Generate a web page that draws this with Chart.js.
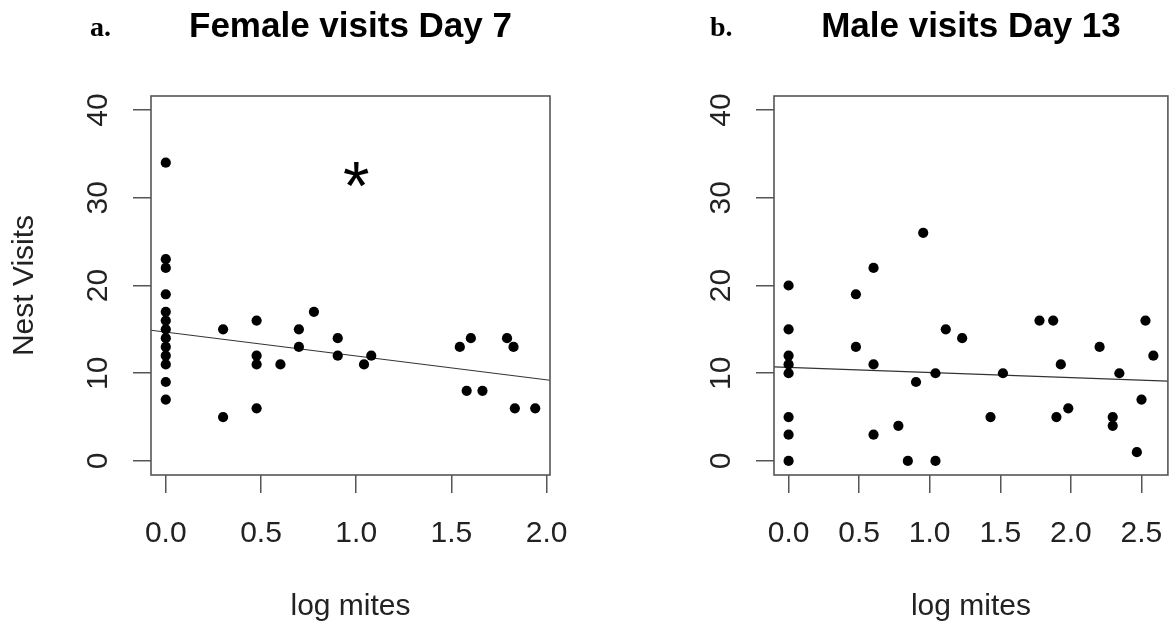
<!DOCTYPE html>
<html>
<head>
<meta charset="utf-8">
<script src="https://cdn.jsdelivr.net/npm/chart.js@4.4.1/dist/chart.umd.min.js"></script>
<style>
  html, body { margin: 0; padding: 0; background: #fff; }
  #wrap { position: relative; width: 1173px; height: 624px; overflow: hidden; }
  canvas { position: absolute; top: 0; }
</style>
</head>
<body>
<div id="wrap">
  <canvas id="female" width="586" height="624" style="left:0"></canvas>
  <canvas id="male" width="587" height="624" style="left:586px"></canvas>
</div>
<script>
// a. Female visits, day 7
const femaleMites = [0, 0, 0, 0, 0, 0, 0, 0, 0, 0, 0, 0, 0,
  0.301, 0.301, 0.477, 0.477, 0.477, 0.477, 0.602, 0.699, 0.699, 0.778,
  0.903, 0.903, 1.041, 1.079, 1.544, 1.580, 1.602, 1.663, 1.792, 1.826, 1.833, 1.940];
const femaleVisits = [34, 23, 22, 19, 17, 16, 15, 14, 13, 12, 11, 9, 7,
  15, 5, 16, 12, 11, 6, 11, 15, 13, 17,
  14, 12, 11, 12, 13, 8, 14, 8, 14, 13, 6, 6];
const femaleFit = [14.69, -2.72];          // intercept, slope
const femaleXRange = [-0.0776, 2.0176];

// b. Male visits, day 13
const maleMites = [0, 0, 0, 0, 0, 0, 0, 0,
  0.477, 0.477, 0.602, 0.602, 0.602, 0.778, 0.845, 0.903, 0.954, 1.041, 1.041,
  1.114, 1.230, 1.431, 1.519, 1.778, 1.875, 1.898, 1.929, 1.982,
  2.204, 2.297, 2.297, 2.344, 2.468, 2.501, 2.529, 2.585];
const maleVisits = [20, 15, 12, 11, 10, 5, 3, 0,
  19, 13, 22, 11, 3, 4, 0, 9, 26, 10, 0,
  15, 14, 5, 10, 16, 16, 5, 11, 6,
  13, 5, 4, 10, 1, 7, 16, 12];
const maleFit = [10.66, -0.584];
const maleXRange = [-0.1034, 2.688];

const femaleXTicks = [0, 0.5, 1, 1.5, 2];
const maleXTicks = [0, 0.5, 1, 1.5, 2, 2.5];
const yTicks = [0, 10, 20, 30, 40];
const yRange = [-1.6, 41.6];

const SANS = '"Liberation Sans", Arial, Helvetica, sans-serif';

const panelDecor = {
  id: 'panel',
  afterDraw(chart, args, opts) {
    const { ctx, chartArea: a, scales: { x, y } } = chart;
    ctx.save();
    ctx.strokeStyle = '#555';
    ctx.lineWidth = 1.6;
    ctx.strokeRect(a.left, a.top, a.right - a.left, a.bottom - a.top);

    ctx.fillStyle = '#222';
    ctx.font = '30px ' + SANS;
    ctx.textAlign = 'center';
    ctx.textBaseline = 'alphabetic';
    x.ticks.forEach(t => ctx.fillText(t.value.toFixed(1), x.getPixelForValue(t.value), a.bottom + 67));
    y.ticks.forEach(t => {
      ctx.save();
      ctx.translate(a.left - 44, y.getPixelForValue(t.value));
      ctx.rotate(-Math.PI / 2);
      ctx.fillText(String(t.value), 0, 0);
      ctx.restore();
    });
    ctx.fillText(opts.xLabel, (a.left + a.right) / 2, a.bottom + 140);
    if (opts.yLabel) {
      ctx.save();
      ctx.translate(33, (a.top + a.bottom) / 2);
      ctx.rotate(-Math.PI / 2);
      ctx.fillText(opts.yLabel, 0, 0);
      ctx.restore();
    }

    ctx.fillStyle = '#000';
    ctx.font = 'bold 35px ' + SANS;
    ctx.fillText(opts.title, (a.left + a.right) / 2, 37);
    ctx.font = 'bold 28px "Liberation Serif", "Times New Roman", serif';
    ctx.textAlign = 'left';
    ctx.fillText(opts.letter, opts.letterX, 36);

    if (opts.star) {
      ctx.font = '68px ' + SANS;
      const m = ctx.measureText('*');
      const px = x.getPixelForValue(opts.star[0]);
      const py = y.getPixelForValue(opts.star[1]);
      ctx.textAlign = 'center';
      ctx.fillText('*', px, py + (m.actualBoundingBoxAscent - m.actualBoundingBoxDescent) / 2);
    }
    ctx.restore();
  }
};

function makePanel(id, mites, visits, fit, xRange, xTicks, deco, yWidth, padRight) {
  const points = mites.map((m, i) => ({ x: m, y: visits[i] }));
  const line = xRange.map(v => ({ x: v, y: fit[0] + fit[1] * v }));
  const tickGrid = { display: true, drawOnChartArea: false, drawTicks: true, tickLength: 18, color: '#555', lineWidth: 1.5 };
  return new Chart(document.getElementById(id), {
    type: 'scatter',
    data: {
      datasets: [
        { data: line, showLine: true, borderColor: '#333', borderWidth: 1.2, pointRadius: 0, order: 2 },
        { data: points, backgroundColor: '#000', borderColor: '#000', pointRadius: 5.1, borderWidth: 0, order: 1 }
      ]
    },
    options: {
      responsive: false,
      animation: false,
      layout: { padding: { left: 0, top: 96, right: padRight, bottom: 0 } },
      scales: {
        x: {
          type: 'linear', min: xRange[0], max: xRange[1],
          afterBuildTicks: s => { s.ticks = xTicks.map(v => ({ value: v })); },
          afterFit: s => { s.height = 149; },
          grid: tickGrid, border: { display: false }, ticks: { display: false }
        },
        y: {
          type: 'linear', min: yRange[0], max: yRange[1],
          afterBuildTicks: s => { s.ticks = yTicks.map(v => ({ value: v })); },
          afterFit: s => { s.width = yWidth; },
          grid: tickGrid, border: { display: false }, ticks: { display: false }
        }
      },
      plugins: {
        legend: { display: false },
        tooltip: { enabled: false },
        panel: deco
      }
    },
    plugins: [panelDecor]
  });
}

makePanel('female', femaleMites, femaleVisits, femaleFit, femaleXRange, femaleXTicks,
  { title: 'Female visits Day 7', letter: 'a.', letterX: 90, xLabel: 'log mites', yLabel: 'Nest Visits', star: [1.0, 32.7] },
  151, 36);
makePanel('male', maleMites, maleVisits, maleFit, maleXRange, maleXTicks,
  { title: 'Male visits Day 13', letter: 'b.', letterX: 124, xLabel: 'log mites' },
  188, 1);
</script>
</body>
</html>
